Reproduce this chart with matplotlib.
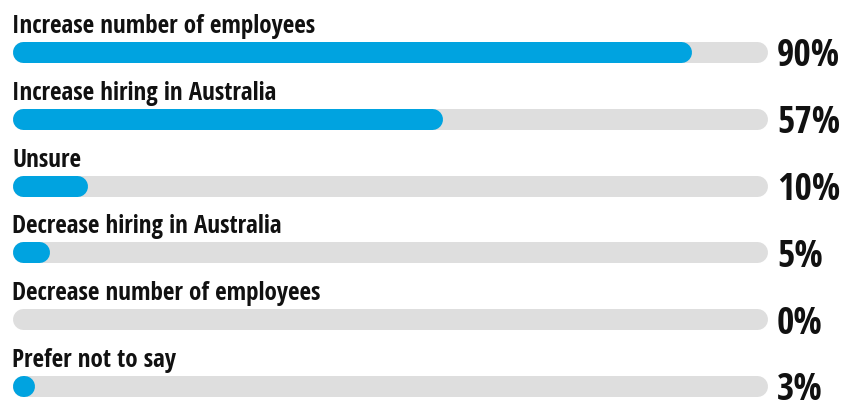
import matplotlib
matplotlib.use('Agg')
import matplotlib.pyplot as plt
from matplotlib import font_manager
from matplotlib.font_manager import FontProperties

labels = ['Increase number of employees', 'Increase hiring in Australia', 'Unsure',
          'Decrease hiring in Australia', 'Decrease number of employees', 'Prefer not to say']
values = [90, 57, 10, 5, 0, 3]

BLUE = '#00a3e0'
GREY = '#dedede'
INK = '#111111'


def pick_font():
    # prefer a condensed bold face, if one is installed
    fonts = font_manager.fontManager.ttflist
    narrow = [f for f in fonts
              if ('ondensed' in f.fname or 'arrow' in f.fname or f.stretch in ('condensed', 'semi-condensed', 'extra-condensed', 600, 700))
              and (f.weight in ('bold', 700, 'semibold', 600) or 'Bold' in f.fname)]
    for pref in ['Open Sans', 'Roboto', 'Noto Sans', 'Liberation Sans', 'DejaVu Sans']:
        for f in narrow:
            if f.name.startswith(pref):
                return FontProperties(fname=f.fname), True
    return FontProperties(family='Open Sans', weight='bold'), False


fp, condensed = pick_font()

W, H = 851, 403
fig = plt.figure(figsize=(W / 100, H / 100), dpi=100)
ax = fig.add_axes([0, 0, 1, 1])
ax.axis('off')

# pixel layout: track from x=12 to x=767, rows 66.8 px apart, first center at y=52
px_x = 7.55
px_y = 66.8
ax.set_xlim(-12 / px_x, (W - 12) / px_x)
ax.set_ylim((H - 52) / px_y, -52 / px_y)

bar_h = 21
lw = bar_h * 72 / 100
r = bar_h / 2 / px_x

lab_size = 18 if condensed else 14.2
pct_size = 27 if condensed else 23.5

for i, (lab, v) in enumerate(zip(labels, values)):
    ax.plot([r, 100 - r], [i, i], color=GREY, lw=lw, solid_capstyle='round')
    if v > 0:
        end = max(v - r, r)
        ax.plot([r, end], [i, i], color=BLUE, lw=lw, solid_capstyle='round')
    ax.text(0, i - 19 / px_y, lab, fontproperties=fp, fontsize=lab_size, color=INK,
            ha='left', va='baseline')
    ax.text(101.3, i + 14.5 / px_y, f'{v}%', fontproperties=fp, fontsize=pct_size, color=INK,
            ha='left', va='baseline')

fig.savefig('out.png', dpi=100)
